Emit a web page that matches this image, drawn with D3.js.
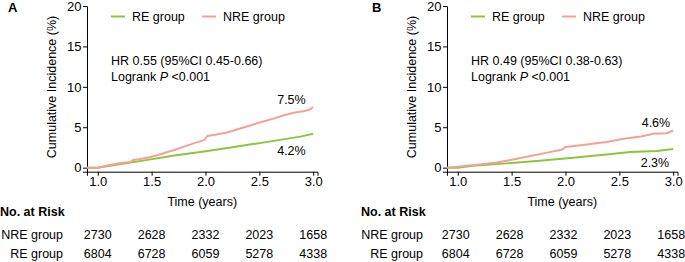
<!DOCTYPE html>
<html>
<head>
<meta charset="utf-8">
<script src="https://cdn.jsdelivr.net/npm/d3@7"></script>
<style>
  body { margin: 0; background: #fff; }
  svg text { font-family: "Liberation Sans", Arial, sans-serif; fill: #000; }
</style>
</head>
<body>
<div id="chart"></div>
<script>
const width = 685;
const height = 262;
const fs = 12.5;

// shared axis values
const xTicks = [1.0, 1.5, 2.0, 2.5, 3.0];
const yTicks = [0, 5, 10, 15, 20];
const riskGroups = ["NRE group", "RE group"];

// panel A
const timeA_nre = [0.9, 1.0, 1.1, 1.2, 1.3, 1.33, 1.38, 1.47, 1.56, 1.64, 1.71, 1.8, 1.89, 1.97, 1.99, 2.02, 2.1, 2.2, 2.33, 2.4, 2.48, 2.56, 2.64, 2.72, 2.82, 2.92, 2.97, 3.0];
const cumA_nre  = [0, 0, 0.3, 0.54, 0.7, 0.95, 1.04, 1.25, 1.57, 1.9, 2.19, 2.6, 3.0, 3.35, 3.45, 3.93, 4.1, 4.34, 4.88, 5.15, 5.5, 5.8, 6.1, 6.45, 6.8, 7.0, 7.2, 7.5];
const timeA_re  = [0.9, 1.0, 1.2, 1.42, 1.71, 1.97, 2.28, 2.59, 2.88, 3.0];
const cumA_re   = [0, 0, 0.42, 0.87, 1.5, 1.98, 2.6, 3.22, 3.84, 4.2];

// panel B
const timeB_nre = [0.9, 1.0, 1.2, 1.36, 1.48, 1.64, 1.82, 1.97, 2.0, 2.14, 2.38, 2.54, 2.7, 2.82, 2.94, 3.0];
const cumB_nre  = [0, 0.1, 0.4, 0.65, 0.93, 1.34, 1.83, 2.24, 2.56, 2.76, 3.17, 3.58, 3.86, 4.19, 4.27, 4.6];
const timeB_re  = [0.9, 1.0, 1.14, 1.45, 1.76, 2.07, 2.38, 2.6, 2.85, 3.0];
const cumB_re   = [0, 0, 0.24, 0.53, 0.85, 1.22, 1.63, 1.95, 2.07, 2.3];

const riskA_nre = [2730, 2628, 2332, 2023, 1658];
const riskA_re  = [6804, 6728, 6059, 5278, 4338];
const riskB_nre = [2730, 2628, 2332, 2023, 1658];
const riskB_re  = [6804, 6728, 6059, 5278, 4338];

const panels = [
  { letter: "A", dx: 0, hr: "HR 0.55 (95%CI 0.45-0.66)",
    nre: [timeA_nre, cumA_nre], re: [timeA_re, cumA_re],
    endNre: "7.5%", endRe: "4.2%", risk: [riskA_nre, riskA_re],
    lab: { nx: -7.5, ny: -3.5, rx: -7.5, ry: 21.5, rowDx: 0 } },
  { letter: "B", dx: 360, hr: "HR 0.49 (95%CI 0.38-0.63)",
    nre: [timeB_nre, cumB_nre], re: [timeB_re, cumB_re],
    endNre: "4.6%", endRe: "2.3%", risk: [riskB_nre, riskB_re],
    lab: { nx: -3, ny: -3.5, rx: -4, ry: 17.5, rowDx: -2 } }
];

const green = "#8cc63f";
const pink = "#f4a195";

var svg = d3.select("#chart")
  .append("svg")
  .attr("width", width)
  .attr("height", height);

panels.forEach(drawPanel);

function drawPanel(p) {
  var x = d3.scaleLinear().domain([0.9, 3.04]).range([87 + p.dx, 317.5 + p.dx]);
  var y = d3.scaleLinear().domain([-0.5, 20]).range([171.7, 6]);
  var g = svg.append("g");

  g.append("text")
    .attr("x", p.dx + (p.letter == "A" ? 8 : 12))
    .attr("y", 12)
    .attr("font-size", 13)
    .attr("font-weight", "bold")
    .text(p.letter);

  var xAxis = g.append("g")
    .attr("transform", `translate(0,${y(-0.5)})`)
    .call(d3.axisBottom(x).tickValues(xTicks).tickFormat(d3.format(".1f"))
      .tickSizeOuter(0).tickSize(4).tickPadding(1));
  var yAxis = g.append("g")
    .attr("transform", `translate(${x(0.9)},0)`)
    .call(d3.axisLeft(y).tickValues(yTicks).tickSizeOuter(0).tickSize(4).tickPadding(1.5));
  [xAxis, yAxis].forEach(a => {
    a.selectAll("path, line").attr("stroke", "#000").attr("stroke-width", 1);
    a.selectAll("text").attr("font-size", 13).attr("fill", "#000")
      .style("font-family", "'Liberation Sans', Arial, sans-serif");
  });

  g.append("text")
    .attr("transform", `translate(${p.dx + 56},${87}) rotate(-90)`)
    .attr("text-anchor", "middle")
    .attr("font-size", fs)
    .text("Cumulative Incidence (%)");

  g.append("text")
    .attr("x", (x.range()[0] + x.range()[1]) / 2)
    .attr("y", 206)
    .attr("text-anchor", "middle")
    .attr("font-size", fs)
    .text("Time (years)");

  var line = d3.line().x(d => x(d[0])).y(d => y(d[1]));
  var series = [[p.re, green], [p.nre, pink]];
  series.forEach(s => {
    var pts = s[0][0].map((t, i) => [t, s[0][1][i]]);
    g.append("path")
      .datum(pts)
      .attr("d", line)
      .attr("fill", "none")
      .attr("stroke", s[1])
      .attr("stroke-width", 2);
  });

  // legend
  var leg = [["RE group", green, 111], ["NRE group", pink, 202]];
  leg.forEach(l => {
    g.append("line")
      .attr("x1", l[2] + p.dx).attr("x2", l[2] + p.dx + 14)
      .attr("y1", 16.5).attr("y2", 16.5)
      .attr("stroke", l[1]).attr("stroke-width", 2);
    g.append("text")
      .attr("x", l[2] + p.dx + 21)
      .attr("y", 21)
      .attr("font-size", fs)
      .text(l[0]);
  });

  g.append("text")
    .attr("x", 111 + p.dx).attr("y", 64.5)
    .attr("font-size", fs)
    .text(p.hr);
  var lr = g.append("text")
    .attr("x", 111 + p.dx).attr("y", 80.5)
    .attr("font-size", fs);
  lr.append("tspan").text("Logrank ");
  lr.append("tspan").attr("font-style", "italic").text("P");
  lr.append("tspan").text(" <0.001");

  // end labels
  var nEnd = p.nre[1][p.nre[1].length - 1];
  var rEnd = p.re[1][p.re[1].length - 1];
  g.append("text")
    .attr("x", x(3.0) + p.lab.nx).attr("y", y(nEnd) + p.lab.ny)
    .attr("text-anchor", "end").attr("font-size", fs)
    .text(p.endNre);
  g.append("text")
    .attr("x", x(3.0) + p.lab.rx).attr("y", y(rEnd) + p.lab.ry)
    .attr("text-anchor", "end").attr("font-size", fs)
    .text(p.endRe);

  // risk table
  g.append("text")
    .attr("x", p.dx + (p.letter == "A" ? 0 : 1))
    .attr("y", 215.5)
    .attr("font-size", fs)
    .attr("font-weight", "bold")
    .text("No. at Risk");
  riskGroups.forEach((name, r) => {
    var ty = 239 + r * 19;
    g.append("text")
      .attr("x", p.dx + 63).attr("y", ty)
      .attr("text-anchor", "end").attr("font-size", fs)
      .text(name);
    g.selectAll(null)
      .data(p.risk[r])
      .enter()
      .append("text")
      .attr("x", (d, i) => x(xTicks[i]) + p.lab.rowDx)
      .attr("y", ty)
      .attr("text-anchor", "middle")
      .attr("font-size", fs)
      .text(d => d);
  });
}
</script>
</body>
</html>
